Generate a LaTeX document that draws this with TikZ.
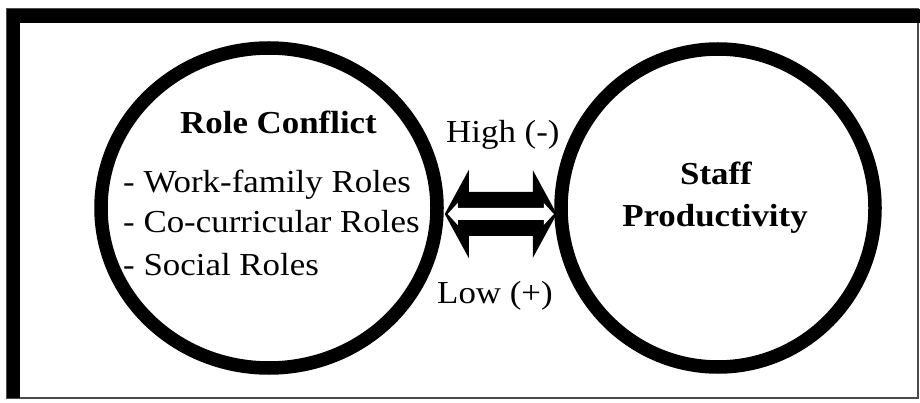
\documentclass[tikz,border=0pt]{standalone}
\usepackage{fontspec}
\setmainfont{Liberation Serif}[FakeStretch=1.09]
\usetikzlibrary{shapes.geometric,calc}
\begin{document}
\begin{tikzpicture}[x=1pt,y=-1pt,
  ring/.style={ellipse,draw=black,line width=13.5pt,inner sep=0pt},
  txt/.style={inner sep=0pt,font=\fontsize{32}{36}\selectfont},
  btxt/.style={inner sep=0pt,font=\fontsize{32}{36}\selectfont\bfseries}]
\useasboundingbox (0,0) rectangle (920,403);
% frame: heavy top and left edges, thin right and bottom edges
\draw[line width=1.5pt,black!70] (7,9) rectangle (918,398);
\fill[black] (7,9) rectangle (920,23);
\fill[black] (7,9) rectangle (20,398);
% the two constructs
\node[ring,minimum width=336pt,minimum height=320pt] (rc) at (269,208) {};
\node[ring,minimum width=314pt,minimum height=318pt] (sp) at (718,208) {};
% labels of the left construct
\node[btxt,anchor=base] (rct) at (278.5,134) {Role Conflict};
\node[txt,anchor=base west] (r1) at (123,193) {- Work-family Roles};
\node[txt,anchor=base west] (r2) at (123,233) {- Co-curricular Roles};
\node[txt,anchor=base west] (r3) at (123,275) {- Social Roles};
% labels of the right construct
\node[btxt,anchor=base] (spa) at (716,185) {Staff};
\node[btxt,anchor=base] (spb) at (715,227) {Productivity};
% double-headed block arrow between the constructs
\coordinate (aL) at ($(rc.east)+(1,6)$);
\coordinate (aR) at ($(sp.west)+(2.5,6)$);
\fill[black] (aL) -- ($(aL)+(24,-44)$) -- ($(aL)+(24,-22)$) -- ($(aR)+(-24,-22)$)
  -- ($(aR)+(-24,-44)$) -- (aR) -- ($(aR)+(-24,44)$) -- ($(aR)+(-24,22)$)
  -- ($(aL)+(24,22)$) -- ($(aL)+(24,44)$) -- cycle;
\fill[white] ($(aL)+(3,0)$) -- ($(aL)+(13,-11)$) -- ($(aL)+(13,-6)$) -- ($(aR)+(-13,-6)$)
  -- ($(aR)+(-13,-11)$) -- ($(aR)+(-3,0)$) -- ($(aR)+(-13,11)$) -- ($(aR)+(-13,6)$)
  -- ($(aL)+(13,6)$) -- ($(aL)+(13,11)$) -- cycle;
% relation labels
\node[txt,anchor=base west] (hi) at (446,143) {High (-)};
\node[txt,anchor=base west] (lo) at (437,303) {Low (+)};
\end{tikzpicture}
\end{document}
